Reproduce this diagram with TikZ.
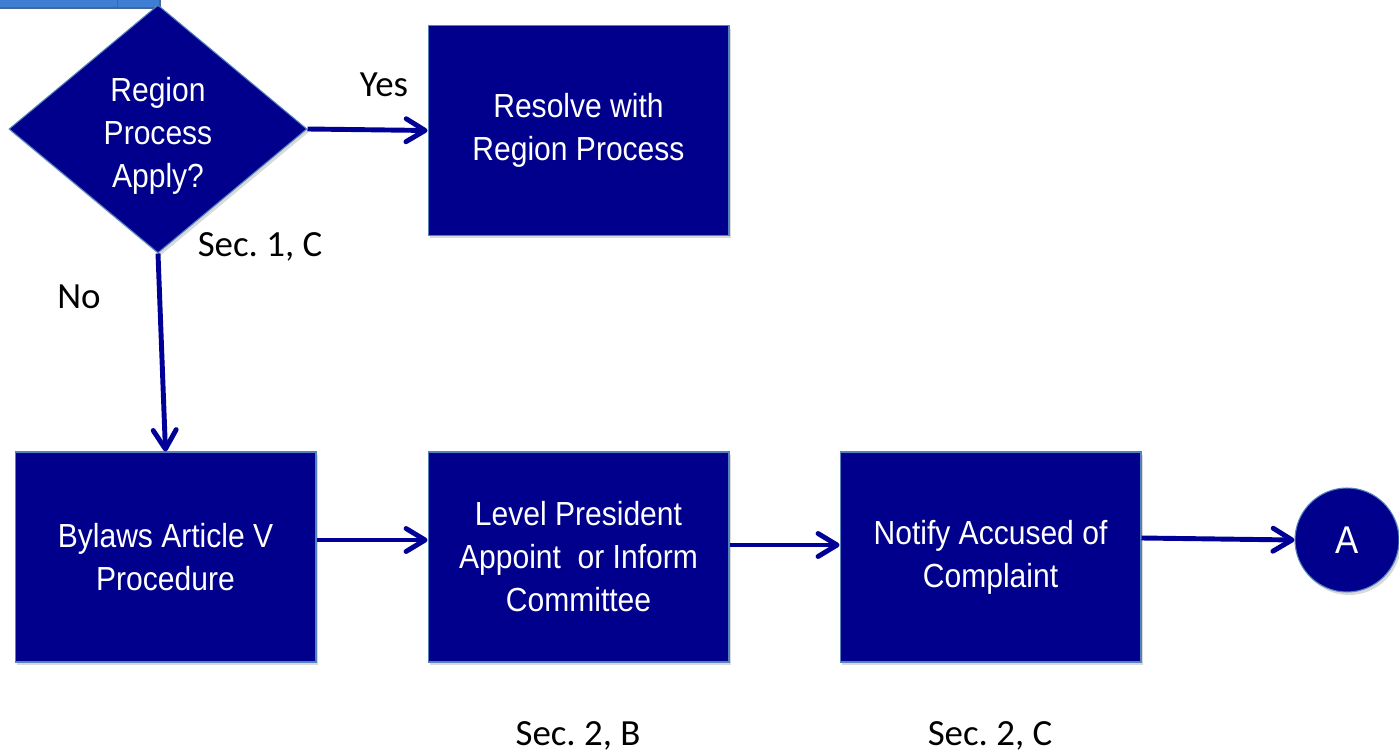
\documentclass[tikz,border=0pt]{standalone}
\usepackage{fontspec}
\setmainfont{Liberation Sans}
\newfontfamily\boxfont[FakeStretch=0.9]{Liberation Sans}
\newfontfamily\labelfont{Carlito}
\usetikzlibrary{shapes.geometric,arrows.meta,shadows}
\definecolor{boxnavy}{RGB}{0,0,140}
\definecolor{boxedge}{RGB}{84,130,190}
\definecolor{linenavy}{RGB}{0,0,150}
\definecolor{tabblue}{RGB}{62,127,211}
\frenchspacing

\begin{document}
\begin{tikzpicture}[x=0.02cm, y=0.02cm,
		boxshadow/.style={drop shadow={opacity=0.3, shadow xshift=0.04cm, shadow yshift=-0.06cm}},
		stepbox/.style={rectangle, fill=boxnavy, draw=boxedge, line width=0.6pt, minimum width=6.02cm, minimum height=4.2cm, inner sep=0pt, text=white, align=center, font=\boxfont\fontsize{19}{24.5}\selectfont, boxshadow},
		decision/.style={diamond, fill=boxnavy, draw=boxedge, line width=0.6pt, minimum width=5.96cm, minimum height=4.96cm, inner sep=0pt, text=white, align=center, font=\boxfont\fontsize{19}{24.5}\selectfont, boxshadow},
		connector/.style={circle, fill=boxnavy, draw=boxedge, line width=0.6pt, minimum size=2.08cm, inner sep=0pt, text=white, font=\boxfont\fontsize{22}{24}\selectfont, boxshadow},
		flow/.style={draw=linenavy, line width=2.8pt, -{Straight Barb[length=0.38cm, width=0.46cm, round]}},
		note/.style={inner sep=0pt, font=\labelfont\fontsize{21}{25}\selectfont}]
	\useasboundingbox (0,0) rectangle (1399,-756);
	% tab cut off at the top
	\fill[tabblue, draw=boxedge!80!black, line width=0.6pt] (-5,5) rectangle (160,-8);
	\draw[boxedge!80!black, line width=0.4pt] (117,5) -- (117,-8);
	% shapes
	\node[decision] (region) at (158,-129) {\raisebox{-0.14cm}[\height][\depth]{\begin{tabular}{@{}c@{}}Region\\Process\\Apply?\end{tabular}}};
	\node[stepbox] (resolve) at (578.5,-130.5) {Resolve with\\Region Process};
	\node[stepbox] (bylaws) at (165.5,-557) {Bylaws Article V\\Procedure};
	\node[stepbox] (level) at (578.5,-557) {Level President\\Appoint\ \ or Inform\\Committee};
	\node[stepbox] (notify) at (990.5,-557) {Notify Accused of\\Complaint};
	\node[connector] (pageA) at (1347,-540) {A};
	% labels
	\node[note] (yes) at (384,-85) {Yes};
	\node[note] (no) at (79,-297) {No};
	\node[note] (sec1c) at (260,-247) {Sec. 1, C};
	\node[note] (sec2b) at (578,-736) {Sec. 2, B};
	\node[note] (sec2c) at (990,-736) {Sec. 2, C};
	% arrows
	\draw[flow] (region.east) -- (resolve.west);
	\draw[flow] (region.south) -- (bylaws.north);
	\draw[flow] ([yshift=0.34cm]bylaws.east) -- ([yshift=0.34cm]level.west);
	\draw[flow] ([yshift=0.24cm]level.east) -- ([yshift=0.24cm]notify.west);
	\draw[flow] ([yshift=0.38cm]notify.east) -- (pageA.west);
\end{tikzpicture}
\end{document}
